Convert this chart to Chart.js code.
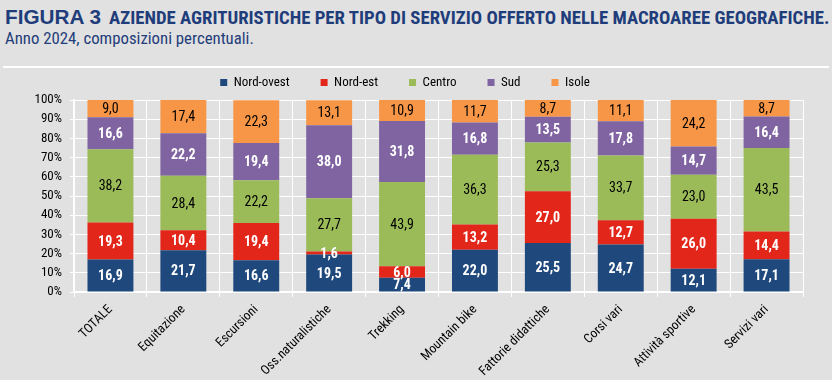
<!DOCTYPE html>
<html><head><meta charset="utf-8">
<script src="https://cdn.jsdelivr.net/npm/chart.js@4.4.1/dist/chart.umd.min.js"></script>
<style>
html,body{margin:0;padding:0;background:#e1e1e1;width:832px;height:380px;overflow:hidden;}
#wrap{position:relative;width:832px;height:380px;}
.t{position:absolute;white-space:nowrap;color:#1f3d7a;z-index:2;}
#fig{left:5px;top:7px;font-family:'Liberation Sans',Arial,sans-serif;font-weight:bold;font-size:19px;line-height:20px;}
#tt{left:109px;top:8px;font-family:'Roboto Condensed',sans-serif;font-weight:bold;font-size:18px;line-height:20px;}
#t2{left:5px;top:29px;font-family:'Roboto Condensed',sans-serif;font-size:16px;line-height:18px;}
#sep{position:absolute;left:3px;top:66px;width:826px;height:2px;background:#ffffff;z-index:1;}
#c{position:absolute;left:0;top:0;z-index:3;}
</style></head>
<body><div id="wrap">
<span class="t" id="fig">FIGURA 3</span>
<span class="t" id="tt">AZIENDE AGRITURISTICHE PER TIPO DI SERVIZIO OFFERTO NELLE MACROAREE GEOGRAFICHE.</span>
<span class="t" id="t2">Anno 2024, composizioni percentuali.</span>
<div id="sep"></div>
<canvas id="c" width="832" height="380"></canvas>
</div>
<script>
const categories = ['TOTALE','Equitazione','Escursioni','Oss.naturalistiche','Trekking','Mountain bike','Fattorie didattiche','Corsi vari','Attività sportive','Servizi vari'];
const seriesNames = ['Nord-ovest','Nord-est','Centro','Sud','Isole'];
const nordOvest = [16.9,21.7,16.6,19.5,7.4,22.0,25.5,24.7,12.1,17.1];
const nordEst   = [19.3,10.4,19.4,1.6,6.0,13.2,27.0,12.7,26.0,14.4];
const centro    = [38.2,28.4,22.2,27.7,43.9,36.3,25.3,33.7,23.0,43.5];
const sud       = [16.6,22.2,19.4,38.0,31.8,16.8,13.5,17.8,14.7,16.4];
const isole     = [9.0,17.4,22.3,13.1,10.9,11.7,8.7,11.1,24.2,8.7];
const yTickLabels = ['0%','10%','20%','30%','40%','50%','60%','70%','80%','90%','100%'];

// fit title widths to the reference
function fitWidth(id, target){
  const el = document.getElementById(id);
  const fs = parseFloat(getComputedStyle(el).fontSize);
  const w = el.getBoundingClientRect().width;
  el.style.fontSize = (fs*target/w).toFixed(2)+'px';
}
fitWidth('fig', 96); fitWidth('tt', 721); fitWidth('t2', 249);

const colors = ['#1f497d','#e2261a','#9bbb59','#8064a2','#f79646'];
const labelWhite = [true,true,false,true,false];
const NARROW = "'Roboto Condensed',sans-serif";

const values = [nordOvest,nordEst,centro,sud,isole];
const datasets = values.map((v,i)=>({
  label: seriesNames[i], data: v, backgroundColor: colors[i], borderWidth: 0,
  barPercentage: 0.63, categoryPercentage: 1.0
}));

const valueLabels = {
  id:'valueLabels',
  afterDatasetsDraw(chart){
    const ctx = chart.ctx;
    ctx.save();
    ctx.textAlign='center'; ctx.textBaseline='middle';
    chart.data.datasets.forEach((ds,di)=>{
      const meta = chart.getDatasetMeta(di);
      meta.data.forEach((bar,i)=>{
        const v = ds.data[i];
        const yc = (bar.y + bar.base)/2;
        ctx.font = (labelWhite[di]?'bold ':'') + '14px ' + NARROW;
        ctx.fillStyle = labelWhite[di] ? '#ffffff' : '#000000';
        ctx.fillText(v.toFixed(1).replace('.',','), bar.x, yc+1);
      });
    });
    ctx.restore();
  }
};
const legendFix = {
  id:'legendFix',
  beforeUpdate(chart){
    const lg = chart.legend;
    if (lg && !lg._patched){
      const f = lg.fit;
      lg.fit = function(){ f.call(this); this.height = 55; };
      lg._patched = true;
    }
  }
};

new Chart(document.getElementById('c'),{
  type:'bar',
  data:{labels:categories, datasets},
  plugins:[legendFix,valueLabels],
  options:{
    responsive:false, animation:false,
    layout:{padding:{left:7,right:29,top:45,bottom:0}},
    plugins:{
      legend:{position:'top',align:'center',
        labels:{boxWidth:7,boxHeight:7,padding:31,color:'#000',font:{family:NARROW,size:13}}},
      tooltip:{enabled:false}
    },
    scales:{
      x:{stacked:true,
        grid:{color:'#ffffff',offset:true,tickLength:5,lineWidth:1},
        border:{color:'#ffffff',width:2},
        ticks:{color:'#000',minRotation:45,maxRotation:45,padding:5,font:{family:NARROW,size:13}},
        afterFit(s){ s.height = 88; }
      },
      y:{stacked:true,min:0,max:100,
        grid:{color:'#ffffff',tickLength:4,lineWidth:1},
        border:{color:'#ffffff',width:2},
        ticks:{stepSize:10,color:'#000',padding:8,font:{family:NARROW,size:13},
          callback:(v,i)=>yTickLabels[Math.round(v/10)]},
        afterFit(s){ s.width = 67; }
      }
    }
  }
});
</script>
</body></html>
